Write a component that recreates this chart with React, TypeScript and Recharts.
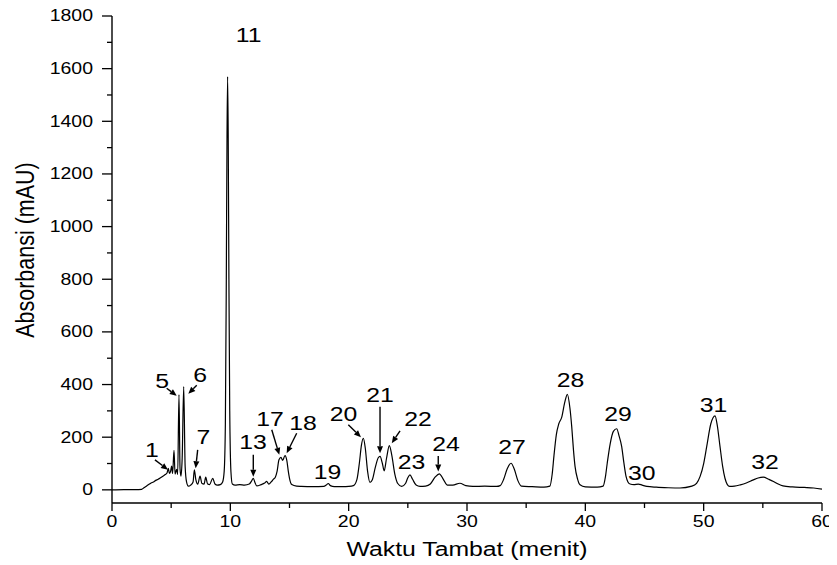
import React from "react";
import { LineChart, Line, XAxis, YAxis, ReferenceDot, ReferenceLine, Label } from "recharts";

const FONT = "'Liberation Sans', Arial, Helvetica, sans-serif";
const SX = 1.18; // the reference text is a bit wider than plain Arial

// retention time (menit) and absorbance (mAU)
const times = [
  0, 1, 2, 2.5, 2.7, 2.9, 3.1, 3.3, 3.5, 3.7, 3.9, 4.1, 4.3, 4.5, 4.65, 4.76, 4.85, 4.95, 5.04, 5.12,
  5.24, 5.33, 5.46, 5.55, 5.66, 5.75, 5.83, 5.93, 6.06, 6.18, 6.3, 6.45, 6.65, 6.85, 6.96, 7.08, 7.25, 7.44, 7.6, 7.78,
  7.92, 8.08, 8.25, 8.51, 8.7, 8.9, 9.15, 9.35, 9.48, 9.58, 9.66, 9.72, 9.77, 9.82, 9.88, 9.95, 10.05, 10.17, 10.4, 10.8,
  11.2, 11.6, 11.8, 11.94, 12.08, 12.23, 12.6, 12.9, 13.07, 13.25, 13.45, 13.63, 13.8, 13.95, 14.11, 14.28, 14.42, 14.62, 14.78, 14.9,
  15.0, 15.19, 15.6, 16.0, 17.0, 17.9, 18.1, 18.28, 18.45, 18.8, 19.5, 20.0, 20.4, 20.7, 20.9, 21.08, 21.24, 21.4, 21.6, 21.8,
  22.0, 22.25, 22.5, 22.65, 22.85, 23.0, 23.2, 23.44, 23.65, 23.9, 24.15, 24.48, 24.8, 25.0, 25.18, 25.4, 25.7, 26.03, 26.5, 26.9,
  27.3, 27.66, 28.0, 28.35, 28.8, 29.4, 29.9, 30.5, 31.5, 32.5, 32.8, 33.1, 33.4, 33.72, 34.0, 34.3, 34.6, 35.5, 36.5, 37.0,
  37.2, 37.35, 37.55, 37.75, 38.0, 38.25, 38.48, 38.7, 38.85, 39.0, 39.13, 39.35, 39.55, 40.0, 41.0, 41.5, 41.7, 41.85, 42.1, 42.37,
  42.65, 42.85, 43.07, 43.25, 43.44, 43.6, 43.78, 44.1, 44.48, 44.8, 45.2, 46.0, 47.0, 48.0, 49.0, 49.4, 49.7, 50.0, 50.26, 50.6,
  50.96, 51.15, 51.38, 51.6, 51.8, 52.0, 52.2, 52.6, 53.1, 53.6, 54.2, 54.6, 55.04, 55.5, 55.9, 56.3, 56.7, 57.5, 58.5, 59.3,
  60,
];
const absorbance = [
  0, 1, 1, 2, 8, 14, 20, 26, 30, 36, 40, 46, 52, 58, 64, 82, 62, 70, 90, 62,
  150, 60, 78, 58, 362, 80, 52, 120, 392, 90, 30, 14, 18, 30, 76, 40, 22, 52, 24, 22,
  48, 22, 20, 44, 22, 18, 20, 30, 70, 250, 800, 1350, 1570, 1350, 800, 300, 70, 22, 18, 20,
  18, 22, 34, 44, 28, 15, 20, 26, 32, 22, 30, 40, 48, 70, 114, 123, 112, 130, 110, 70,
  44, 20, 14, 13, 12, 13, 18, 24, 16, 12, 12, 13, 16, 40, 100, 170, 196, 160, 70, 28,
  38, 85, 122, 127, 100, 72, 120, 168, 130, 60, 24, 13, 24, 46, 57, 40, 18, 13, 14, 22,
  48, 61, 40, 18, 18, 25, 16, 13, 14, 13, 16, 40, 80, 101, 78, 35, 14, 12, 10, 14,
  60, 130, 210, 250, 275, 330, 363, 310, 240, 150, 89, 40, 19, 11, 10, 14, 50, 101, 175, 222,
  232, 205, 165, 105, 51, 30, 22, 20, 22, 18, 13, 10, 8, 7, 14, 25, 51, 100, 165, 250,
  281, 245, 165, 90, 44, 20, 13, 14, 19, 26, 38, 45, 48, 40, 32, 22, 15, 11, 9, 7,
  3,
];

const xTicks = [0, 5, 10, 15, 20, 25, 30, 35, 40, 45, 50, 55, 60];
const yTicks = [0, 100, 200, 300, 400, 500, 600, 700, 800, 900, 1000, 1100, 1200, 1300, 1400, 1500, 1600, 1700, 1800];

// peak numbers and where their text sits
const peakNames = ["1", "5", "6", "7", "11", "13", "17", "18", "19", "20", "21", "22", "23", "24", "27", "28", "29", "30", "31", "32"];
const peakNameX = [3.36, 4.23, 7.44, 7.73, 11.54, 11.92, 13.35, 16.14, 18.21, 19.56, 22.65, 25.86, 25.31, 28.23, 33.8, 38.75, 42.76, 44.76, 50.83, 55.18];
const peakNameY = [152, 414, 437, 203, 1730, 182, 270, 254, 68, 289, 361, 270, 106, 175, 163, 418, 289, 65, 323, 108];

// arrows from label to peak
const arrowFromX = [3.63, 4.62, 7.16, 7.24, 11.94, 13.5, 15.61, 19.97, 22.65, 24.34, 27.57];
const arrowFromY = [114, 386, 397, 152, 133, 228, 215, 247, 316, 224, 129];
const arrowToX = [4.73, 5.47, 6.45, 7.07, 11.94, 14.14, 14.76, 21.04, 22.65, 23.64, 27.57];
const arrowToY = [76, 357, 365, 82, 50, 133, 139, 200, 139, 177, 70];

const data = times.map((t, i) => ({ t, v: absorbance[i] }));

function StretchText({ x, y, text, size, anchor = "middle", rotate = 0 }: any) {
  const tf = `translate(${x},${y}) scale(${SX},1)` + (rotate ? ` rotate(${rotate})` : "");
  return (
    <g transform={tf}>
      <text x={0} y={0} textAnchor={anchor} dominantBaseline="central" fontSize={size} fontFamily={FONT} fill="#000">
        {text}
      </text>
    </g>
  );
}

function XTick({ x, y, payload }: any) {
  const major = payload.value % 10 === 0;
  return (
    <g>
      <line x1={x} y1={y} x2={x} y2={y + (major ? 8 : 5)} stroke="#000" strokeWidth={1.3} />
      {major && <StretchText x={x} y={y + 19} text={String(payload.value)} size={16.5} />}
    </g>
  );
}

function YTick({ x, y, payload }: any) {
  const major = payload.value % 200 === 0;
  return (
    <g>
      <line x1={x - (major ? 10 : 5)} y1={y} x2={x} y2={y} stroke="#000" strokeWidth={1.3} />
      {major && <StretchText x={x - 19} y={y} text={String(payload.value)} size={16.5} anchor="end" />}
    </g>
  );
}

function Arrow({ x1, y1, x2, y2 }: any) {
  const dx = x2 - x1;
  const dy = y2 - y1;
  const len = Math.sqrt(dx * dx + dy * dy) || 1;
  const ux = dx / len;
  const uy = dy / len;
  const hl = 7;
  const hw = 3;
  const bx = x2 - ux * hl;
  const by = y2 - uy * hl;
  const pts = `${x2},${y2} ${bx - uy * hw},${by + ux * hw} ${bx + uy * hw},${by - ux * hw}`;
  return (
    <g>
      <line x1={x1} y1={y1} x2={bx} y2={by} stroke="#000" strokeWidth={1.4} />
      <polygon points={pts} fill="#000" />
    </g>
  );
}

export default function App() {
  return (
    <LineChart width={829} height={557} data={data} margin={{ top: 8, right: 15, bottom: 12, left: 44 }}>
      <XAxis
        dataKey="t"
        type="number"
        domain={[0, 60]}
        ticks={xTicks}
        interval={0}
        tickSize={0}
        tickMargin={0}
        tickLine={false}
        tick={<XTick />}
        height={50}
        axisLine={{ stroke: "#000", strokeWidth: 1.4 }}
      >
        <Label
          content={({ viewBox }: any) => (
            <StretchText x={viewBox.x + viewBox.width / 2} y={541} text="Waktu Tambat (menit)" size={21} />
          )}
        />
      </XAxis>
      <YAxis
        type="number"
        domain={[-50, 1800]}
        ticks={yTicks}
        interval={0}
        tickSize={0}
        tickMargin={0}
        tickLine={false}
        tick={<YTick />}
        width={60}
        axisLine={{ stroke: "#000", strokeWidth: 1.4 }}
        allowDataOverflow
      >
        <Label content={() => <StretchText x={17} y={242} text="Absorbansi (mAU)" size={21.5} rotate={-90} />} />
      </YAxis>
      <Line type="monotone" dataKey="v" stroke="#000" strokeWidth={1.2} dot={false} isAnimationActive={false} />
      {arrowFromX.map((fx, i) => (
        <ReferenceLine
          key={"a" + i}
          segment={[
            { x: fx, y: arrowFromY[i] },
            { x: arrowToX[i], y: arrowToY[i] },
          ]}
          ifOverflow="visible"
          shape={(p: any) => <Arrow {...p} />}
        />
      ))}
      {peakNames.map((n, i) => (
        <ReferenceDot
          key={"p" + n}
          x={peakNameX[i]}
          y={peakNameY[i]}
          r={0}
          ifOverflow="visible"
          shape={(p: any) => <StretchText x={p.cx} y={p.cy} text={n} size={21} />}
        />
      ))}
    </LineChart>
  );
}
